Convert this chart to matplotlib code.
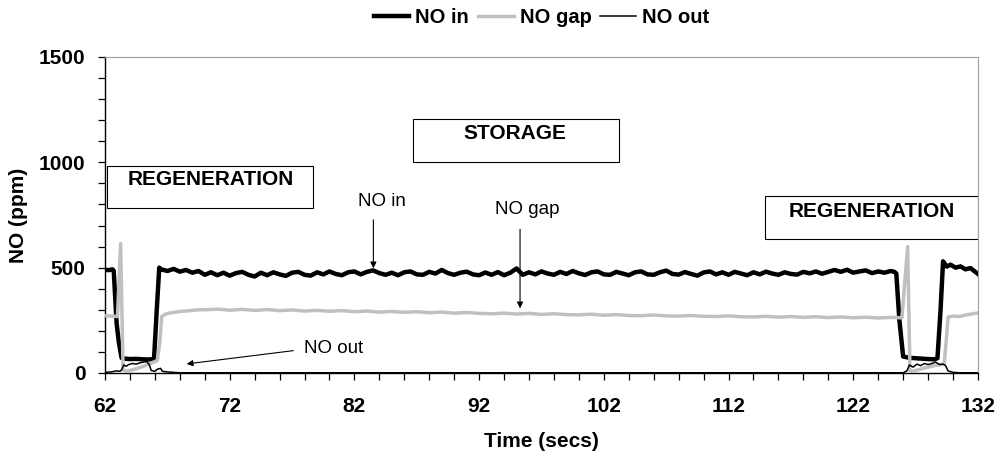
import numpy as np
import matplotlib.pyplot as plt
from matplotlib.patches import Rectangle
from matplotlib.ticker import MultipleLocator

plt.rcParams['font.family'] = ['Liberation Sans', 'DejaVu Sans']

# NO in : inlet concentration
in_lead_t = [62.0, 62.3, 62.6, 62.7, 62.93, 63.1, 63.33, 63.6, 64.0, 64.5, 65.0, 65.5, 65.93, 66.15, 66.35]
in_lead = [490, 488, 492, 485, 237, 150, 71, 68, 66, 67, 65, 64, 66, 300, 500]
in_mid = [492, 484, 494, 481, 489, 476, 484, 466, 478, 464,
          476, 462, 474, 480, 466, 458, 476, 464, 478, 468,
          461, 476, 480, 466, 462, 478, 468, 482, 470, 464,
          478, 482, 468, 480, 487, 474, 466, 476, 464, 478,
          482, 468, 466, 480, 472, 489, 474, 466, 476, 481,
          468, 464, 477, 466, 479, 464, 476, 496, 466, 478,
          468, 482, 472, 466, 480, 470, 484, 473, 465, 478,
          482, 468, 466, 480, 472, 464, 478, 482, 468, 466,
          478, 486, 470, 467, 479, 470, 462, 477, 482, 468,
          478, 466, 480, 472, 464, 478, 468, 481, 472, 466,
          478, 470, 467, 480, 473, 482, 471, 480, 489, 480,
          490, 476, 482, 487, 474, 482, 476, 484]
in_tail_t = [125.3, 125.45, 125.7, 126.0, 126.5, 127.0, 127.5, 128.0, 128.5, 128.75,
             129.0, 129.2, 129.5, 129.8, 130.2, 130.6, 131.0, 131.4, 131.7, 132.0]
in_tail = [480, 472, 250, 78, 72, 70, 68, 66, 65, 70,
           300, 530, 505, 514, 500, 506, 492, 498, 484, 470]

# NO gap : between the two bricks
gap_lead_t = [62.0, 62.5, 63.0, 63.25, 63.45, 63.7, 64.0, 64.5, 65.0, 65.5, 65.9, 66.2, 66.4,
              66.55, 66.8, 67.2, 67.6, 68.0, 68.5, 69.0, 69.5]
gap_lead = [272, 270, 268, 614, 15, 8, 12, 20, 30, 42, 52, 60, 150,
            268, 278, 285, 288, 292, 294, 297, 300]
gap_mid = [300, 303, 298, 302, 297, 301, 296, 299, 294, 297,
           293, 296, 291, 294, 289, 292, 288, 291, 286, 289,
           284, 287, 283, 281, 284, 280, 283, 278, 281, 277,
           276, 279, 274, 277, 273, 272, 275, 271, 270, 273,
           269, 268, 271, 267, 266, 269, 265, 268, 264, 267,
           263, 266, 262, 265, 261, 264]
gap_tail_t = [125.9, 126.36, 126.55, 127.0, 127.5, 128.0, 128.5, 129.0, 129.3, 129.45, 129.6,
              130.0, 130.5, 131.0, 131.5, 132.0]
gap_tail = [262, 600, 5, 12, 20, 28, 35, 40, 45, 150, 265,
            270, 268, 275, 280, 285]

# NO out : after the trap
out_t = [62.0, 62.5, 62.9, 63.2, 63.33, 63.5, 63.7, 63.9, 64.2, 64.5, 64.8, 65.1, 65.34, 65.55,
         65.7, 66.0, 66.2, 66.45, 66.6, 67.0, 67.5, 68.0, 80.0, 100.0, 126.0, 126.3, 126.5,
         126.8, 127.1, 127.4, 127.7, 128.0, 128.4, 128.6, 128.9, 129.2, 129.4, 129.6, 130.0,
         130.5, 132.0]
out_v = [3, 5, 10, 8, 15, 38, 32, 40, 45, 42, 48, 52, 54, 40,
         12, 8, 18, 22, 8, 5, 3, 1, 1, 1, 1, 10, 38,
         28, 42, 35, 45, 40, 47, 52, 40, 42, 35, 10, 3,
         1, 1]

in_t = in_lead_t + [66.5 + 0.5 * i for i in range(len(in_mid))] + in_tail_t
in_v = in_lead + in_mid + in_tail
gap_t = gap_lead_t + [70.0 + i for i in range(len(gap_mid))] + gap_tail_t
gap_v = gap_lead + gap_mid + gap_tail

fig = plt.figure(figsize=(10.01, 4.59), dpi=100)
ax = fig.add_axes([0.1049, 0.1874, 0.8721, 0.6885])

l1, = ax.plot(in_t, in_v, color='black', lw=3.2, label='NO in', zorder=3)
l2, = ax.plot(gap_t, gap_v, color='#c0c0c0', lw=2.5, label='NO gap', zorder=4)
l3, = ax.plot(out_t, out_v, color='black', lw=1.1, label='NO out', zorder=5)

ax.set_xlim(62, 132)
ax.set_ylim(0, 1500)
ax.set_xticks(np.arange(62, 133, 10))
ax.set_xticks(np.arange(62, 133, 2), minor=True)
ax.yaxis.set_major_locator(MultipleLocator(500))
ax.yaxis.set_minor_locator(MultipleLocator(100))
ax.tick_params(which='both', direction='out', length=5, width=0.9, color='black')
ax.tick_params(axis='x', pad=12, labelsize=15)
ax.tick_params(axis='y', pad=9, labelsize=15)
for lab in ax.get_xticklabels() + ax.get_yticklabels():
    lab.set_fontweight('bold')

ax.spines['left'].set_linewidth(1.0)
ax.spines['bottom'].set_linewidth(1.0)
for s in ('top', 'right'):
    ax.spines[s].set_color('#a0a0a0')
    ax.spines[s].set_linewidth(0.8)

ax.set_xlabel('Time (secs)', fontsize=15, fontweight='bold')
ax.set_ylabel('NO (ppm)', fontsize=15, fontweight='bold')
ax.xaxis.set_label_coords(0.5, -0.187)
ax.yaxis.set_label_coords(-0.088, 0.5)

# phase boxes
boxes = [((62.18, 785), 78.70 - 62.18, 984 - 785, 'REGENERATION', (70.47, 916)),
         ((86.70, 1003), 103.22 - 86.70, 1204 - 1003, 'STORAGE', (94.88, 1138)),
         ((114.93, 637), 132.0 - 114.93, 841.5 - 637, 'REGENERATION', (123.48, 765))]
for xy, w, h, txt, pos in boxes:
    ax.add_patch(Rectangle(xy, w, h, facecolor='white', edgecolor='black', lw=0.8, zorder=6))
    ax.text(pos[0], pos[1], txt, ha='center', va='center', fontsize=15,
            fontweight='bold', zorder=7)

arrow = dict(arrowstyle='-|>', color='black', lw=0.8, mutation_scale=9, shrinkA=0, shrinkB=0)
nfam = ['Liberation Sans Narrow', 'Liberation Sans']
ax.text(84.19, 816, 'NO in', ha='center', va='center', fontsize=13.5, family=nfam)
ax.annotate('', xy=(83.52, 497), xytext=(83.52, 727), arrowprops=arrow)
ax.text(95.82, 774, 'NO gap', ha='center', va='center', fontsize=13.5, family=nfam)
ax.annotate('', xy=(95.28, 307), xytext=(95.28, 682), arrowprops=arrow)
ax.text(80.31, 117, 'NO out', ha='center', va='center', fontsize=13.5, family=nfam)
ax.annotate('', xy=(68.55, 43), xytext=(77.1, 106), arrowprops=arrow)

fig.legend(handles=[l1, l2, l3], loc='center', bbox_to_anchor=(0.541, 0.961), ncol=3,
           frameon=False, prop={'weight': 'bold', 'size': 14.5}, handlelength=1.75,
           handletextpad=0.3, columnspacing=0.45)

fig.savefig('out.png', dpi=100)
